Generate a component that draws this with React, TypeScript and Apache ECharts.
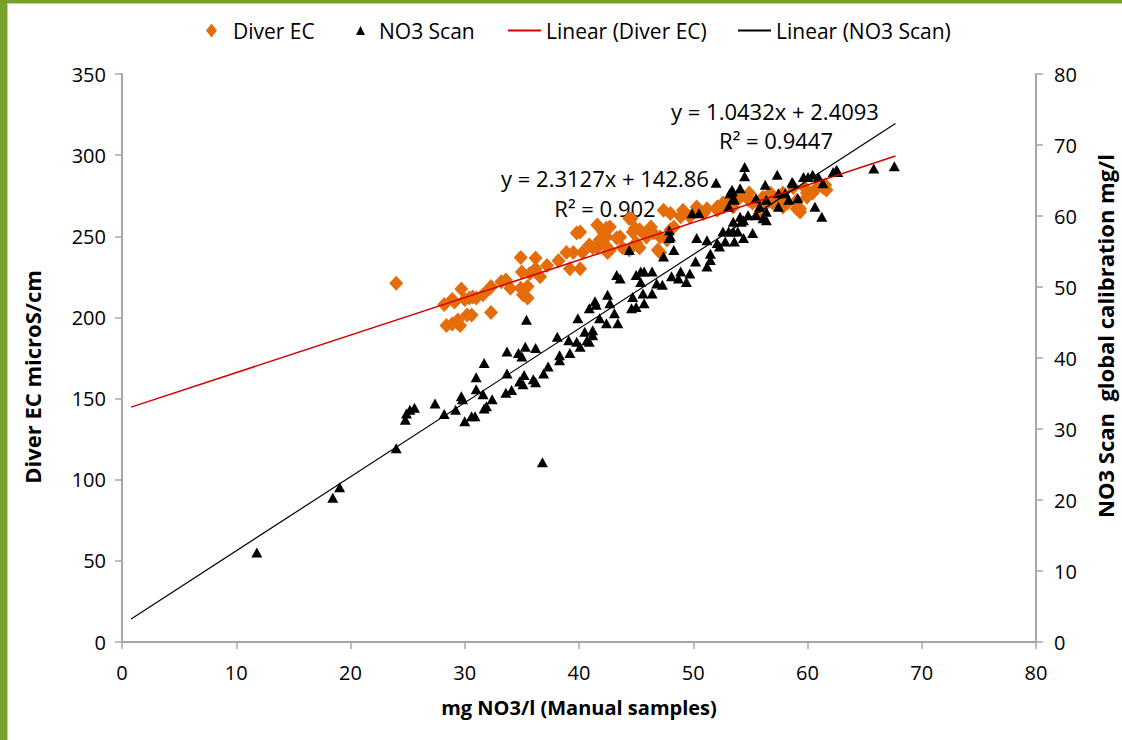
import React, { useEffect, useRef } from "react";
import * as echarts from "echarts";

// Diver EC (left axis, microS/cm) vs manual NO3 (mg/l)
const diverEC: [number, number][] = [
  [24.0, 221], [28.2, 208], [29.1, 209.5], [29.7, 217.5], [30.0, 211], [28.4, 195], [29.3, 197],
  [30.2, 201.5], [29.6, 195], [30.7, 212.6], [31.6, 214], [32.3, 219], [28.9, 196], [29.4, 198.4],
  [30.6, 201.5], [32.3, 203], [28.9, 211], [30.4, 212], [31.0, 212], [32.2, 218], [33.2, 222],
  [33.6, 223], [34.9, 237], [36.2, 236.6], [35.0, 228], [35.7, 227], [36.2, 230], [37.2, 232],
  [36.6, 225], [35.5, 219], [34.9, 218], [35.1, 214], [35.5, 212], [34.0, 218], [38.2, 235],
  [38.9, 240], [39.8, 252], [40.1, 252.6], [39.5, 240], [39.2, 230], [40.1, 230], [40.3, 240],
  [40.9, 244.6], [41.6, 257], [42.4, 255], [41.2, 243], [42.1, 246], [42.5, 240], [44.6, 261],
  [44.9, 255], [46.3, 255.7], [45.9, 249.5], [46.9, 241.5], [47.4, 266], [48.0, 264], [49.1, 266],
  [50.3, 268], [50.9, 264], [52.1, 266], [52.6, 268], [53.2, 270.5], [54.1, 274], [54.9, 272],
  [56.1, 274], [56.75, 276.6], [57.85, 275], [59.05, 272], [59.95, 276.6], [60.85, 280], [61.55, 281.6],
  [59.35, 267], [57.85, 268], [57.35, 270.5], [42.4, 249.5], [43.6, 249.5], [45.0, 246], [44.4, 261],
  [44.7, 252.6], [45.3, 254], [45.9, 252.6], [46.5, 252], [47.1, 249.5], [45.3, 243], [47.7, 247.7],
  [48.3, 255.7], [48.9, 262], [49.7, 262], [50.4, 266], [51.2, 267], [52.1, 268], [53.0, 270.5],
  [42.1, 252.6], [42.7, 255.7], [41.8, 247.7], [43.3, 249], [41.6, 243], [42.7, 241.5], [43.8, 243],
  [44.4, 241.5], [47.1, 240], [48.0, 254], [52.6, 270.5], [53.5, 268], [54.9, 276.6], [55.2, 270.5],
  [56.1, 268], [55.8, 264], [56.95, 270.5], [58.25, 270.5], [59.05, 267], [59.35, 265], [59.95, 274],
  [60.45, 276.6], [61.35, 280], [61.65, 278.5], [57.85, 276.6], [58.75, 280], [59.75, 280],
];

// NO3 Scan global calibration (right axis, mg/l) vs manual NO3 (mg/l)
const no3Scan: [number, number][] = [
  [11.8, 12.6], [18.45, 20.3], [19.05, 21.8], [24.0, 27.3], [24.8, 31.3], [24.9, 32.2], [25.2, 32.7],
  [25.6, 33.0], [27.4, 33.6], [28.2, 32.1], [29.2, 32.7], [29.8, 34.2], [30.0, 31.1], [30.6, 31.8],
  [30.9, 31.8], [31.0, 35.6], [31.0, 37.3], [31.7, 39.3], [31.6, 34.9], [31.7, 32.9], [31.9, 33.2],
  [32.4, 34.2], [33.7, 37.8], [33.6, 35.1], [34.1, 35.5], [34.8, 36.7], [35.2, 37.6], [35.1, 36.3],
  [36.0, 37.0], [36.2, 36.6], [36.9, 37.8], [37.3, 38.8], [36.8, 25.3], [38.3, 39.7], [35.4, 45.4],
  [33.7, 40.9], [29.7, 34.6], [34.7, 40.7], [35.3, 41.6], [35.0, 40.2], [36.2, 41.4], [38.1, 43.0],
  [38.3, 40.4], [39.2, 40.7], [39.1, 42.5], [39.8, 42.3], [39.9, 45.6], [40.1, 41.6], [40.7, 42.5],
  [41.2, 43.2], [40.5, 43.7], [40.9, 47.0], [41.5, 47.5], [41.4, 48.0], [42.4, 44.9], [42.5, 48.9],
  [52.0, 64.7], [53.2, 63.2], [49.9, 60.4], [50.5, 60.4], [47.9, 58.0], [47.9, 56.9], [44.4, 55.2],
  [47.4, 54.3], [48.3, 55.2], [50.3, 56.9], [51.2, 56.6], [52.6, 57.8], [52.1, 56.2], [50.2, 53.6],
  [51.5, 54.7], [51.5, 53.8], [51.2, 52.9], [49.7, 51.9], [48.9, 52.2], [48.1, 51.5], [49.4, 50.7],
  [48.7, 51.2], [43.3, 51.7], [43.6, 51.2], [45.0, 51.7], [45.4, 52.2], [45.7, 52.2], [46.4, 52.2],
  [45.4, 50.7], [46.8, 50.5], [47.3, 50.3], [46.4, 49.1], [45.6, 49.1], [44.7, 48.6], [45.0, 47.2],
  [45.7, 47.7], [44.6, 47.0], [42.7, 47.7], [43.1, 46.3], [41.8, 45.6], [43.4, 44.9], [41.2, 43.9],
  [40.9, 42.3], [54.5, 66.9], [54.5, 65.6], [57.35, 65.8], [56.3, 64.4], [58.65, 64.8], [59.65, 65.5],
  [60.05, 65.5], [60.45, 65.8], [60.95, 65.5], [62.25, 66.2], [62.65, 66.2], [61.35, 64.6], [58.75, 64.6],
  [53.4, 63.4], [54.1, 63.9], [53.1, 61.3], [53.6, 62.3], [55.5, 62.5], [56.4, 62.3], [57.45, 63.2],
  [58.05, 63.2], [58.35, 62.3], [59.15, 62.5], [57.45, 61.3], [56.4, 60.6], [55.8, 61.3], [55.5, 60.1],
  [54.8, 60.1], [54.1, 59.9], [54.2, 59.2], [53.5, 59.2], [56.4, 59.4], [60.65, 61.3], [61.25, 59.9],
  [55.2, 57.6], [54.4, 56.9], [53.6, 56.4], [52.8, 56.4], [53.5, 57.8], [52.3, 55.7], [53.1, 57.8],
  [53.9, 57.8], [65.8, 66.7], [67.6, 67.0], [62.55, 66.5], [48.0, 57.1], [54.4, 59.4], [56.1, 59.7],
  [53.4, 63.7], [53.5, 62.5],
];

const trendRange = [0.8, 67.7];
const diverFit = { slope: 2.3127, intercept: 142.86, r2: "0.902" };
const no3Fit = { slope: 1.0432, intercept: 2.4093, r2: "0.9447" };

const seriesNames = ["Diver EC", "NO3 Scan", "Linear (Diver EC)", "Linear (NO3 Scan)"];
const axisTitles = {
  x: "mg NO3/l (Manual samples)",
  left: "Diver EC microS/cm",
  right: "NO3 Scan  global calibration mg/l",
};

export default function App() {
  const ref = useRef<HTMLDivElement>(null);

  useEffect(() => {
    const chart = echarts.init(ref.current!, null, { renderer: "svg" });
    const FONT = "'Open Sans', sans-serif";
    const fitLine = (f: { slope: number; intercept: number }) =>
      trendRange.map((x) => [x, f.slope * x + f.intercept]);
    const axisColor = "#A6A6A6";
    const axisCommon = {
      type: "value",
      splitLine: { show: false },
      axisLine: { show: true, onZero: false, lineStyle: { color: axisColor, width: 2 } },
      axisTick: { show: true, inside: false, length: 7, lineStyle: { color: axisColor, width: 1.5 } },
      nameLocation: "middle",
      nameTextStyle: { fontFamily: FONT, fontWeight: "bold", fontSize: 20, color: "#000" },
    };
    const labelStyle = { fontFamily: FONT, fontSize: 20, color: "#000" };
    const legendBase = {
      top: 15,
      orient: "horizontal",
      textStyle: { fontFamily: FONT, fontSize: 21, color: "#000" },
      selectedMode: false,
    };
    const annot = (x: number, y: number, text: string) => ({
      type: "text",
      x,
      y,
      style: { text, fontFamily: FONT, fontSize: 22, fill: "#000", align: "center", verticalAlign: "middle" },
    });

    chart.setOption({
      animation: false,
      backgroundColor: "#ffffff",
      grid: { left: 122, right: 86, top: 74, bottom: 98, containLabel: false },
      legend: [
        { ...legendBase, left: 201, data: [{ name: seriesNames[0], icon: "diamond" }], itemWidth: 11, itemHeight: 14, textStyle: { ...legendBase.textStyle, padding: [0, 0, 0, 11] } },
        { ...legendBase, left: 351, data: [{ name: seriesNames[1], icon: "triangle" }], itemWidth: 9, itemHeight: 9, textStyle: { ...legendBase.textStyle, padding: [0, 0, 0, 9] } },
        { ...legendBase, left: 503, data: [{ name: seriesNames[2], icon: "rect" }], itemWidth: 33, itemHeight: 2 },
        { ...legendBase, left: 733, data: [{ name: seriesNames[3], icon: "rect" }], itemWidth: 33, itemHeight: 2 },
      ],
      xAxis: {
        ...axisCommon,
        min: 0,
        max: 80,
        interval: 10,
        axisLabel: { ...labelStyle, margin: 20 },
        name: axisTitles.x,
        nameGap: 55,
      },
      yAxis: [
        {
          ...axisCommon,
          position: "left",
          min: 0,
          max: 350,
          interval: 50,
          axisLabel: { ...labelStyle, margin: 16 },
        },
        {
          ...axisCommon,
          position: "right",
          min: 0,
          max: 80,
          interval: 10,
          alignTicks: false,
          axisLabel: { ...labelStyle, margin: 18 },
        },
      ],
      series: [
        {
          name: seriesNames[0],
          type: "scatter",
          yAxisIndex: 0,
          data: diverEC,
          symbol: "diamond",
          symbolSize: [14, 15],
          itemStyle: { color: "#E46C0A", opacity: 1 },
          z: 2,
        },
        {
          name: seriesNames[1],
          type: "scatter",
          yAxisIndex: 1,
          data: no3Scan,
          symbol: "triangle",
          symbolSize: [11, 10],
          itemStyle: { color: "#000000", opacity: 1 },
          z: 3,
        },
        {
          name: seriesNames[2],
          type: "line",
          yAxisIndex: 0,
          data: fitLine(diverFit),
          symbol: "none",
          showSymbol: false,
          lineStyle: { color: "#D40000", width: 1.5 },
          itemStyle: { color: "#D40000" },
          z: 4,
        },
        {
          name: seriesNames[3],
          type: "line",
          yAxisIndex: 1,
          data: fitLine(no3Fit),
          symbol: "none",
          showSymbol: false,
          lineStyle: { color: "#000000", width: 1.2 },
          itemStyle: { color: "#000000" },
          z: 4,
        },
      ],
      graphic: [
        { type: "rect", shape: { x: 0, y: 0, width: 7, height: 740 }, style: { fill: "#76A22A" }, silent: true },
        { type: "rect", shape: { x: 0, y: 0, width: 1122, height: 3 }, style: { fill: "#76A22A" }, silent: true },
        { type: "rect", shape: { x: 7, y: 3, width: 1, height: 737 }, style: { fill: "#C9C6D2" }, silent: true },
        { type: "rect", shape: { x: 7, y: 3, width: 1115, height: 1 }, style: { fill: "#C9C6D2" }, silent: true },
        annot(775, 111, `y = ${no3Fit.slope}x + ${no3Fit.intercept}`),
        annot(776, 140, `R² = ${no3Fit.r2}`),
        annot(605, 178, `y = ${diverFit.slope}x + ${diverFit.intercept}`),
        annot(605, 208, `R² = ${diverFit.r2}`),
        {
          type: "text", x: 32, y: 377, rotation: Math.PI / 2,
          style: { text: axisTitles.left, fontFamily: FONT, fontWeight: "bold", fontSize: 22, fill: "#000", align: "center", verticalAlign: "middle" },
        },
        {
          type: "text", x: 1105, y: 336, rotation: Math.PI / 2,
          style: { text: axisTitles.right, fontFamily: FONT, fontWeight: "bold", fontSize: 22, fill: "#000", align: "center", verticalAlign: "middle" },
        },
      ],
    });
    return () => chart.dispose();
  }, []);

  return (
    <div
      ref={ref}
      style={{ position: "fixed", left: 0, top: 0, width: 1122, height: 740, background: "#fff" }}
    />
  );
}
